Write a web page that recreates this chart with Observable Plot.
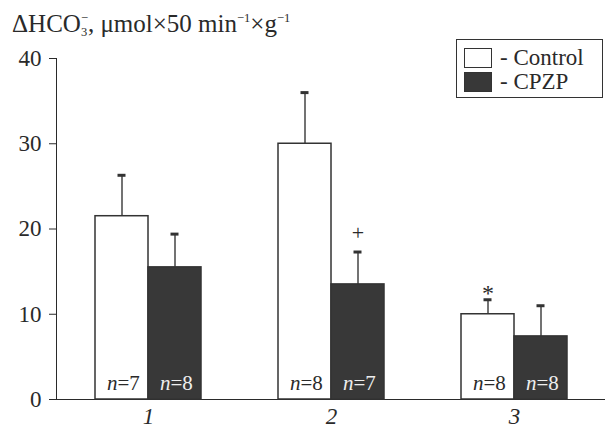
<!DOCTYPE html>
<html>
<head>
<meta charset="utf-8">
<script src="https://cdn.jsdelivr.net/npm/d3@7"></script>
<script src="https://cdn.jsdelivr.net/npm/@observablehq/plot@0.6"></script>
<style>
  html, body { margin: 0; padding: 0; background: #fff; }
  #wrap { position: relative; width: 605px; height: 429px; font-family: 'Liberation Serif', 'Times New Roman', Times, serif; color: #2a2a2a; }
  #title { height: 40px; box-sizing: border-box; padding-top: 10px; padding-left: 12px; font-size: 25px; line-height: 28px; white-space: nowrap; }
  #title sup, #title sub { font-size: 0.5em; line-height: 0; position: relative; vertical-align: baseline; }
  #title sup { top: -0.8em; }
  #title sub { top: 0.35em; }
  #title .neg { margin-left: -0.5em; }
  #legend { position: absolute; left: 456px; top: 39px; width: 147px; height: 59px; box-sizing: border-box; border: 1.5px solid #333; background: #fff; font-size: 23px; }
  #legend .row { position: absolute; left: 7px; display: flex; align-items: center; }
  #legend .sw { width: 28px; height: 20px; box-sizing: border-box; border: 1.5px solid #333; margin-right: 8px; }
  #chart svg, #chart svg text { font-family: 'Liberation Serif', 'Times New Roman', Times, serif !important; }
  svg [aria-label="x-axis tick label"] text { font-style: italic; }
</style>
</head>
<body>
<div id="wrap">
  <div id="title"></div>
  <div id="chart"></div>
  <div id="legend"></div>
</div>
<script>
// ---- data ----
const groups = ["1", "2", "3"];
const seriesNames = ["Control", "CPZP"];
const controlMean = [21.5, 30.0, 10.0];
const controlErr = [4.8, 6.0, 1.7];
const cpzpMean = [15.5, 13.5, 7.4];
const cpzpErr = [3.9, 3.8, 3.6];
const controlN = [7, 8, 8];
const cpzpN = [8, 7, 8];
const yTicks = [0, 10, 20, 30, 40];
const annotations = [
  {group: "2", series: "CPZP", label: "+"},
  {group: "3", series: "Control", label: "*"}
];
const titleHTML = 'ΔHCO<sub>3</sub><sup class="neg">−</sup>, μmol×50 min<sup>−1</sup>×g<sup>−1</sup>';

// ---- build rows ----
const rows = groups.flatMap((g, i) => [
  {group: g, series: seriesNames[0], mean: controlMean[i], top: controlMean[i] + controlErr[i], n: controlN[i]},
  {group: g, series: seriesNames[1], mean: cpzpMean[i], top: cpzpMean[i] + cpzpErr[i], n: cpzpN[i]}
]);
const ctrl = rows.filter(d => d.series === "Control");
const cpzp = rows.filter(d => d.series === "CPZP");
const ann = annotations.map(a => ({...a, top: rows.find(r => r.group === a.group && r.series === a.series).top}));

document.getElementById("title").innerHTML = titleHTML;
document.getElementById("legend").innerHTML =
  `<div class="row" style="top:5px"><div class="sw" style="background:#fff"></div>- ${seriesNames[0]}</div>` +
  `<div class="row" style="top:29px"><div class="sw" style="background:#383838"></div>- ${seriesNames[1]}</div>`;

const half = 53, off = 26.5;
const dark = "#333", darkFill = "#383838";
const fontN = 21;

const plot = Plot.plot({
  width: 605,
  height: 389,
  marginLeft: 56,
  marginRight: 0,
  marginTop: 18,
  marginBottom: 30,
  style: {fontFamily: "'Liberation Serif', 'Times New Roman', Times, serif", fontSize: "23px", color: "#2a2a2a", background: "transparent", overflow: "visible"},
  x: {domain: groups, paddingInner: 0.422, paddingOuter: 0.207, tickSize: 0, tickPadding: 8, line: true, label: null},
  y: {domain: [0, 40], ticks: yTicks, tickSize: 7, tickPadding: 8, line: true, label: null},
  marks: [
    Plot.ruleX(ctrl, {x: "group", y1: "mean", y2: "top", dx: -off, stroke: "#444", strokeWidth: 1.5}),
    Plot.ruleX(cpzp, {x: "group", y1: "mean", y2: "top", dx: off, stroke: "#444", strokeWidth: 1.5}),
    Plot.tickY(ctrl, {x: "group", y: "top", dx: -off, insetLeft: 49, insetRight: 49, stroke: dark, strokeWidth: 3}),
    Plot.tickY(cpzp, {x: "group", y: "top", dx: off, insetLeft: 49, insetRight: 49, stroke: dark, strokeWidth: 3}),
    Plot.barY(ctrl, {x: "group", y: "mean", insetRight: half, fill: "#fff", stroke: dark, strokeWidth: 1.5}),
    Plot.barY(cpzp, {x: "group", y: "mean", insetLeft: half, fill: darkFill, stroke: dark, strokeWidth: 1.5}),
    Plot.text(ctrl, {x: "group", y: 0, text: () => "n", dx: -off - 4.5, dy: -10, textAnchor: "end", lineAnchor: "bottom", fontStyle: "italic", fontSize: fontN, fill: "#2a2a2a"}),
    Plot.text(ctrl, {x: "group", y: 0, text: d => "=" + d.n, dx: -off - 4.5, dy: -10, textAnchor: "start", lineAnchor: "bottom", fontSize: fontN, fill: "#2a2a2a"}),
    Plot.text(cpzp, {x: "group", y: 0, text: () => "n", dx: off - 4.5, dy: -10, textAnchor: "end", lineAnchor: "bottom", fontStyle: "italic", fontSize: fontN, fill: "#eee"}),
    Plot.text(cpzp, {x: "group", y: 0, text: d => "=" + d.n, dx: off - 4.5, dy: -10, textAnchor: "start", lineAnchor: "bottom", fontSize: fontN, fill: "#eee"}),
    Plot.text(ann.filter(a => a.label === "+"), {x: "group", y: "top", text: "label", dx: off, dy: -12, lineAnchor: "bottom", fontSize: 22, fill: "#2a2a2a"}),
    Plot.text(ann.filter(a => a.label === "*"), {x: "group", y: "top", text: "label", dx: -off, dy: 1, lineAnchor: "bottom", fontSize: 24, fill: "#2a2a2a"})
  ]
});
document.getElementById("chart").appendChild(plot);
</script>
</body>
</html>
